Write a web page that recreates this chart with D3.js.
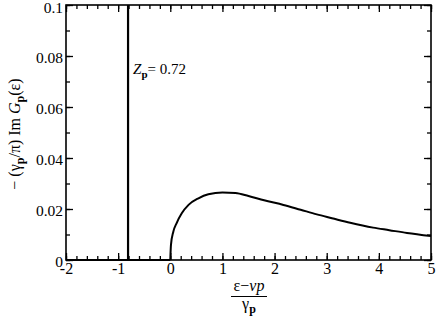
<!DOCTYPE html>
<html><head><meta charset="utf-8">
<script src="https://cdn.jsdelivr.net/npm/d3@7"></script>
<style>body{margin:0;background:#fff}svg{display:block}</style>
</head><body>
<svg id="c" width="436" height="318"></svg>
<script>
// continuum part of the spectral function
const curveX = [0, 0, 0.013, 0.058, 0.12, 0.22, 0.35, 0.54, 0.73, 1.0, 1.25, 1.5, 1.8, 2.17, 2.5, 2.81, 3.1, 3.45, 3.89, 4.2, 4.54, 5.0];
const curveY = [0, 0.0, 0.0059, 0.0111, 0.0144, 0.0183, 0.0216, 0.0242, 0.0258, 0.0265, 0.0263, 0.0251, 0.0234, 0.0216, 0.0197, 0.0179, 0.0164, 0.0146, 0.0127, 0.0117, 0.0106, 0.0094];
// baseline segment below threshold
const baseX = [-2, 0];
const baseY = [0, 0];
// quasiparticle delta peak
const peakX = -0.81;
const peakY = [0, 0.1];
const xTicks = [-2, -1, 0, 1, 2, 3, 4, 5];
const yTicks = [0, 0.02, 0.04, 0.06, 0.08, 0.1];
const xTickLabels = ["-2", "-1", "0", "1", "2", "3", "4", "5"];
const yTickLabels = ["0", "0.02", "0.04", "0.06", "0.08", "0.1"];
const zLabel = "0.72";

const FONT = "Liberation Serif";
const svg = d3.select("#c");
const L = 66, R = 431, T = 5, B = 260;
const x = d3.scaleLinear().domain([-2, 5]).range([L, R]);
const y = d3.scaleLinear().domain([0, 0.1]).range([B, T]);

const xMinor = d3.range(-2, 5.0001, 0.2).map(v => +v.toFixed(2));
const yMinor = d3.range(0, 0.10001, 0.01).map(v => +v.toFixed(3));

function axisStyle(g) {
  g.attr("font-family", FONT);
  g.select(".domain").remove();
  g.selectAll("line").attr("stroke", "#000").attr("stroke-width", 1.3);
  g.selectAll("text").attr("fill", "#000").attr("font-family", FONT);
}

// bottom
svg.append("g").attr("transform", `translate(0,${B})`)
  .call(d3.axisBottom(x).tickValues(xMinor).tickSize(-4).tickFormat("")).call(axisStyle);
svg.append("g").attr("transform", `translate(0,${B})`)
  .call(d3.axisBottom(x).tickValues(xTicks).tickSize(-7).tickPadding(5).tickFormat((d, i) => xTickLabels[i]))
  .call(axisStyle).call(g => g.selectAll("text").attr("font-size", 16).attr("dy", "0.71em").attr("transform","translate(0,-2)"));
// top
svg.append("g").attr("transform", `translate(0,${T})`)
  .call(d3.axisTop(x).tickValues(xMinor).tickSize(-4).tickFormat("")).call(axisStyle);
svg.append("g").attr("transform", `translate(0,${T})`)
  .call(d3.axisTop(x).tickValues(xTicks).tickSize(-7).tickFormat("")).call(axisStyle);
// left
svg.append("g").attr("transform", `translate(${L},0)`)
  .call(d3.axisLeft(y).tickValues(yMinor).tickSize(-4).tickFormat("")).call(axisStyle);
svg.append("g").attr("transform", `translate(${L},0)`)
  .call(d3.axisLeft(y).tickValues(yTicks).tickSize(-7).tickPadding(3).tickFormat((d, i) => yTickLabels[i]))
  .call(axisStyle).call(g => g.selectAll("text").attr("font-size", 15.5).attr("dy", (d, i) => i === 5 ? "0.5em" : "0.4em"));
// right
svg.append("g").attr("transform", `translate(${R},0)`)
  .call(d3.axisRight(y).tickValues(yMinor).tickSize(-4).tickFormat("")).call(axisStyle);
svg.append("g").attr("transform", `translate(${R},0)`)
  .call(d3.axisRight(y).tickValues(yTicks).tickSize(-7).tickFormat("")).call(axisStyle);

// frame
svg.append("rect").attr("x", L).attr("y", T).attr("width", R - L).attr("height", B - T)
  .attr("fill", "none").attr("stroke", "#000").attr("stroke-width", 1.6);

const line = d3.line().x(d => x(d[0])).y(d => y(d[1]));
svg.append("path").datum(baseX.map((v, i) => [v, baseY[i]])).attr("d", line)
  .attr("fill", "none").attr("stroke", "#000").attr("stroke-width", 2);
svg.append("path").datum(peakY.map(v => [peakX, v])).attr("d", line)
  .attr("fill", "none").attr("stroke", "#000").attr("stroke-width", 2.2);
svg.append("path").datum(curveX.map((v, i) => [v, curveY[i]]))
  .attr("d", d3.line().x(d => x(d[0])).y(d => y(d[1])).curve(d3.curveMonotoneX))
  .attr("fill", "none").attr("stroke", "#000").attr("stroke-width", 2);

function T_(sel) { return sel.attr("font-family", FONT).attr("fill", "#000"); }

// annotation
const ann = T_(svg.append("text")).attr("x", x(peakX) + 5).attr("y", 74).attr("font-size", 15);
ann.append("tspan").attr("font-style", "italic").text("Z");
ann.append("tspan").attr("font-weight", "bold").attr("font-size", 11).attr("dy", 4).text("p");
ann.append("tspan").attr("dy", -4).text("= " + zLabel);

// y title
const yt = T_(svg.append("text")).attr("transform", "translate(20,134) rotate(-90)").attr("text-anchor", "middle").attr("font-size", 16);
yt.append("tspan").text("− (γ");
yt.append("tspan").attr("font-weight", "bold").attr("font-size", 12).attr("dy", 4).text("p");
yt.append("tspan").attr("dy", -4).text("/π) Im ");
yt.append("tspan").attr("font-style", "italic").text("G");
yt.append("tspan").attr("font-weight", "bold").attr("font-size", 12).attr("dy", 4).text("p");
yt.append("tspan").attr("dy", -4).text("(ε)");

// x title (fraction)
const cx = 249;
const num = T_(svg.append("text")).attr("x", cx).attr("y", 291).attr("text-anchor", "middle").attr("font-size", 16);
num.append("tspan").text("ε−");
num.append("tspan").attr("font-style", "italic").text("vp");
svg.append("line").attr("x1", cx - 18).attr("x2", cx + 18).attr("y1", 296.5).attr("y2", 296.5).attr("stroke", "#000").attr("stroke-width", 1.2);
const den = T_(svg.append("text")).attr("x", cx).attr("y", 309).attr("text-anchor", "middle").attr("font-size", 16);
den.append("tspan").text("γ");
den.append("tspan").attr("font-weight", "bold").attr("font-size", 12).attr("dy", 4).text("p");
</script>
</body></html>
